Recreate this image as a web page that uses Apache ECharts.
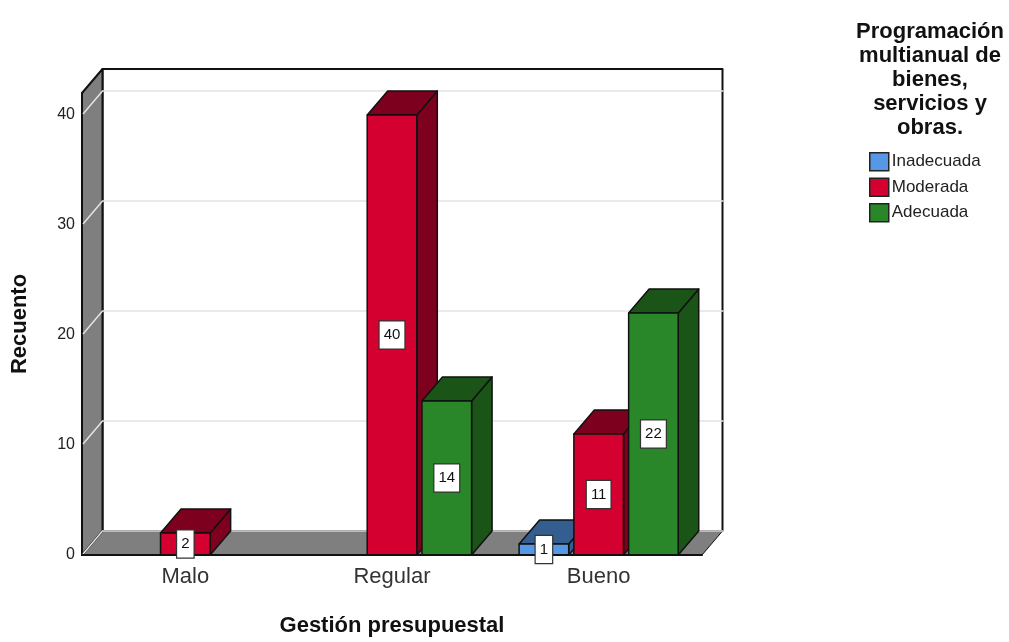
<!DOCTYPE html>
<html>
<head>
<meta charset="utf-8">
<style>html,body{margin:0;padding:0;background:#fff}#chart{width:1009px;height:642px}</style>
<script src="https://cdn.jsdelivr.net/npm/echarts@6/dist/echarts.min.js"></script>
</head>
<body>
<div id="chart"></div>
<script>
const categories = ['Malo', 'Regular', 'Bueno'];
const seriesNames = ['Inadecuada', 'Moderada', 'Adecuada'];
const inadecuada = [null, null, 1];
const moderada = [2, 40, 11];
const adecuada = [null, 14, 22];
const yTicks = [0, 10, 20, 30, 40];
const yMax = 42;
const legendTitle = 'Programación\nmultianual de\nbienes,\nservicios y\nobras.';

const faceColors = [
  { front: '#5697e6', dark: '#345e90' },
  { front: '#d30030', dark: '#7d001e' },
  { front: '#298729', dark: '#1a5417' }
];
const wallColor = '#7f7f7f';
const edgeColor = '#111111';
const FONT = '"Liberation Sans", Arial, sans-serif';

// Oblique offset of the back plane, in pixels
const DEPTH_X = 20.5;
const DEPTH_Y = -24;
// Bar width and slot step as fractions of a category band
const BAR_BAND = 0.24;
const STEP_BAND = 0.265;

const poly = (points, fill, stroke, width) => ({
  type: 'polygon',
  shape: { points },
  style: { fill, stroke: stroke || edgeColor, lineWidth: width || 1.5, lineJoin: 'round' }
});
const line = (pts, stroke, width) => ({
  type: 'polyline',
  shape: { points: pts },
  style: { fill: 'none', stroke, lineWidth: width }
});

// Back wall, side wall, floor and the gridlines that run across them
function renderRoom(params, api) {
  const o = api.coord([0, 0]);
  const cs = params.coordSys;
  const left = cs.x, right = cs.x + cs.width, floor = o[1];
  const top = api.coord([0, yMax])[1];
  const children = [
    poly([[left + DEPTH_X, top + DEPTH_Y], [right + DEPTH_X, top + DEPTH_Y],
          [right + DEPTH_X, floor + DEPTH_Y], [left + DEPTH_X, floor + DEPTH_Y]], '#ffffff', edgeColor, 2),
    poly([[left, floor], [left + DEPTH_X, floor + DEPTH_Y], [right + DEPTH_X, floor + DEPTH_Y], [right, floor]], wallColor, edgeColor, 1),
    poly([[left, top], [left + DEPTH_X, top + DEPTH_Y], [left + DEPTH_X, floor + DEPTH_Y], [left, floor]], wallColor, edgeColor, 2)
  ];
  yTicks.forEach(t => {
    const y = api.coord([0, t])[1];
    children.push(line([[left + 1, y - 1], [left + DEPTH_X, y + DEPTH_Y], [right + DEPTH_X + 1, y + DEPTH_Y]], '#e4e4e4', 1.5));
  });
  return { type: 'group', children };
}

// One oblique bar: side face, top face, then the front face over them
function makeBarRenderer(slot) {
  return function (params, api) {
    const cat = api.value(0), val = api.value(1);
    if (val == null || isNaN(val)) return null;
    const band = api.size([1, 0])[0];
    const cx = api.coord([cat, 0])[0] + (slot - 1) * STEP_BAND * band;
    const base = api.coord([cat, 0])[1];
    const topY = api.coord([cat, val])[1];
    const hw = BAR_BAND * band / 2;
    const l = cx - hw, r = cx + hw;
    const c = faceColors[slot];
    return {
      type: 'group',
      children: [
        poly([[r, base], [r + DEPTH_X, base + DEPTH_Y], [r + DEPTH_X, topY + DEPTH_Y], [r, topY]], c.dark),
        poly([[l, topY], [l + DEPTH_X, topY + DEPTH_Y], [r + DEPTH_X, topY + DEPTH_Y], [r, topY]], c.dark),
        poly([[l, base], [l, topY], [r, topY], [r, base]], c.front)
      ]
    };
  };
}

// Boxed count, centred on the front face at half the bar height
function makeLabelRenderer(slot) {
  return function (params, api) {
    const cat = api.value(0), val = api.value(1);
    if (val == null || isNaN(val)) return null;
    const band = api.size([1, 0])[0];
    const cx = api.coord([cat, 0])[0] + (slot - 1) * STEP_BAND * band;
    const cy = api.coord([cat, val / 2])[1];
    return {
      type: 'text',
      x: cx, y: cy,
      style: {
        text: String(val),
        font: '15px ' + FONT,
        fill: '#111',
        align: 'center',
        verticalAlign: 'middle',
        backgroundColor: '#ffffff',
        borderColor: '#333333',
        borderWidth: 1.2,
        padding: [6, 4, 6, 4]
      }
    };
  };
}

const valueLists = [inadecuada, moderada, adecuada];
const toPairs = list => list.map((v, i) => [i, v]);

const barSeries = valueLists.map((list, slot) => ({
  type: 'custom',
  name: seriesNames[slot],
  coordinateSystem: 'cartesian2d',
  renderItem: makeBarRenderer(slot),
  itemStyle: { color: faceColors[slot].front },
  encode: { x: 0, y: 1 },
  z: 3,
  data: toPairs(list)
}));
const labelSeries = valueLists.map((list, slot) => ({
  type: 'custom',
  coordinateSystem: 'cartesian2d',
  renderItem: makeLabelRenderer(slot),
  encode: { x: 0, y: 1 },
  z: 5,
  silent: true,
  data: toPairs(list)
}));

const chart = echarts.init(document.getElementById('chart'), null, { renderer: 'canvas' });
chart.setOption({
  animation: false,
  backgroundColor: '#ffffff',
  textStyle: { fontFamily: FONT },
  grid: { left: 82, top: 93, width: 620, height: 466 },
  title: {
    text: legendTitle,
    left: 925,
    top: 15,
    textAlign: 'center',
    textStyle: { fontFamily: FONT, fontSize: 22, fontWeight: 'bold', color: '#111', lineHeight: 24 }
  },
  legend: {
    orient: 'vertical',
    left: 864,
    top: 147,
    itemWidth: 19,
    itemHeight: 18,
    itemGap: 6,
    data: seriesNames,
    selectedMode: false,
    icon: 'rect',
    itemStyle: { borderColor: '#222', borderWidth: 1.5 },
    textStyle: { fontFamily: FONT, fontSize: 17, color: '#222', padding: [0, 0, 0, -2] }
  },
  xAxis: {
    type: 'category',
    data: categories,
    name: 'Gestión presupuestal',
    nameLocation: 'middle',
    nameGap: 60,
    nameTextStyle: { fontFamily: FONT, fontSize: 22, fontWeight: 'bold', color: '#111', padding: [0, 0, 0, 0] },
    axisLine: { lineStyle: { color: edgeColor, width: 2 } },
    axisTick: { show: false },
    axisLabel: { fontFamily: FONT, fontSize: 22, color: '#333', margin: 11 },
    z: 4
  },
  yAxis: {
    type: 'value',
    min: 0,
    max: yMax,
    interval: 10,
    name: 'Recuento',
    nameLocation: 'middle',
    nameGap: 51,
    nameRotate: 90,
    nameTextStyle: { fontFamily: FONT, fontSize: 22, fontWeight: 'bold', color: '#111' },
    axisLine: { show: true, lineStyle: { color: edgeColor, width: 2 } },
    axisTick: { show: false },
    splitLine: { show: false },
    axisLabel: { fontFamily: FONT, fontSize: 16, color: '#222', margin: 7, showMaxLabel: false }
  },
  series: [
    {
      type: 'custom',
      coordinateSystem: 'cartesian2d',
      renderItem: renderRoom,
      encode: { x: 0, y: 1 },
      z: 1,
      silent: true,
      data: [[0, 0]]
    },
    ...barSeries,
    ...labelSeries
  ]
});
</script>
</body>
</html>
